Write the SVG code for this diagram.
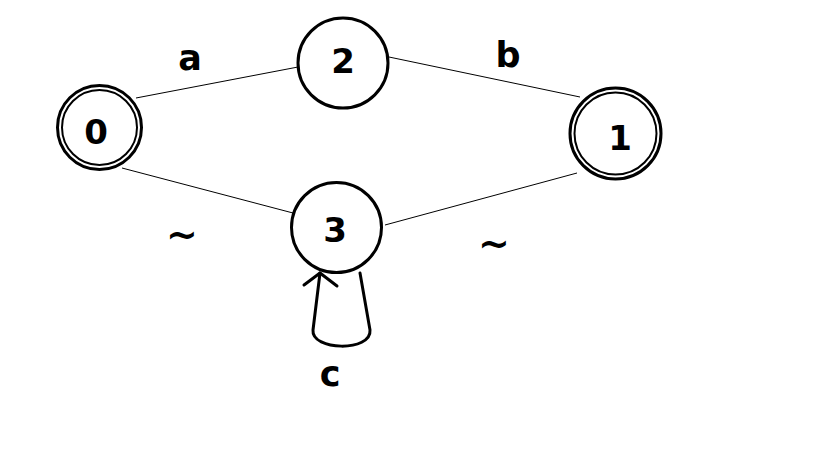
<svg xmlns="http://www.w3.org/2000/svg" width="819" height="460" viewBox="0 0 819 460">
<style>
.c{fill:none;stroke:#000;stroke-width:3}
.e{fill:none;stroke:#000;stroke-width:1}
.l{fill:none;stroke:#000;stroke-width:3;stroke-linecap:round;stroke-linejoin:round}
.t{font-family:"DejaVu Sans",sans-serif;font-weight:bold;font-size:34px;text-anchor:middle;fill:#000}
.s{font-family:"DejaVu Sans",sans-serif;font-weight:bold;font-size:35px;text-anchor:middle;fill:#000}
.w{font-family:"DejaVu Sans",sans-serif;font-weight:bold;font-size:38px;text-anchor:middle;fill:#000}
</style>
<rect width="819" height="460" fill="#fff"/>
<g id="edges">
<line class="e" x1="136" y1="98" x2="298" y2="67"/>
<line class="e" x1="389" y1="57" x2="580" y2="97"/>
<line class="e" x1="122" y1="168" x2="293" y2="213"/>
<line class="e" x1="385" y1="225" x2="577" y2="173"/>
<path class="l" d="M320,273 L313,330 C311,351 372,352 370,330 L360,273"/>
<path class="l" d="M304,285 L320,273 L337,286"/>
<text class="s" x="190" y="70">a</text>
<text class="s" x="508" y="67">b</text>
<text class="w" x="182" y="247">~</text>
<text class="w" x="494" y="256">~</text>
<text class="s" x="330" y="386">c</text>
</g>
<g id="node0">
<circle class="c" cx="99.5" cy="127.5" r="42"/>
<circle class="c" cx="99.5" cy="127.5" r="37.5" style="stroke-width:2"/>
<text class="t" x="96" y="144">0</text>
</g>
<g id="node1">
<circle class="c" cx="615.5" cy="133.5" r="45.5"/>
<circle class="c" cx="615.5" cy="133.5" r="41" style="stroke-width:2"/>
<text class="t" x="620" y="150">1</text>
</g>
<g id="node2">
<circle class="c" cx="343" cy="63" r="45"/>
<text class="t" x="343" y="73">2</text>
</g>
<g id="node3">
<circle class="c" cx="336.5" cy="227.5" r="45"/>
<text class="t" x="335" y="242">3</text>
</g>
</svg>
